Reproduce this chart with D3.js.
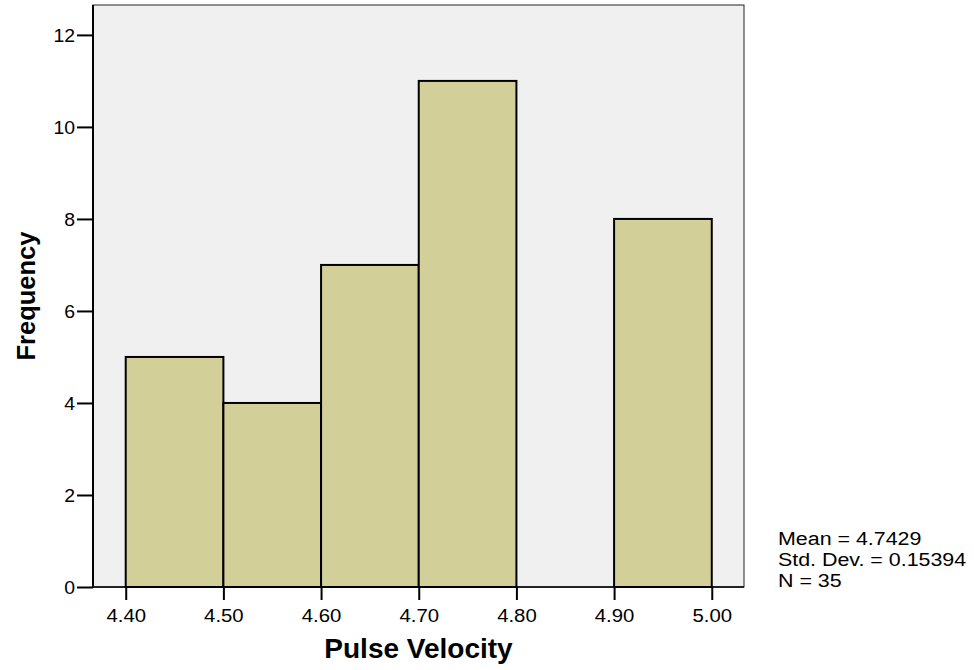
<!DOCTYPE html>
<html><head><meta charset="utf-8">
<script src="https://cdn.jsdelivr.net/npm/d3@7"></script>
<style>body{margin:0;background:#fff}svg{display:block}</style>
</head><body>
<script>
const binEdges = [4.40, 4.50, 4.60, 4.70, 4.80, 4.90, 5.00];
const frequencies = [5, 4, 7, 11, 0, 8];
const xTicks = [4.40, 4.50, 4.60, 4.70, 4.80, 4.90, 5.00];
const yTicks = [0, 2, 4, 6, 8, 10, 12];
const statsLines = ["Mean = 4.7429", "Std. Dev. = 0.15394", "N = 35"];

const W = 974, H = 670;
const L = 93, R = 744, T = 5, B = 587;
const svg = d3.select("body").append("svg").attr("width", W).attr("height", H)
  .style("font-family", "'Liberation Sans', Arial, sans-serif");

const x = d3.scaleLinear().domain([4.3665, 5.033]).range([L, R]);
const y = d3.scaleLinear().domain([0, 12.65]).range([B, T]);

svg.append("rect").attr("x", L).attr("y", T).attr("width", R - L).attr("height", B - T)
  .attr("fill", "#f0f0f0").attr("stroke", "#222").attr("stroke-width", 1);

const bins = frequencies.map((f, i) => ({x0: binEdges[i], x1: binEdges[i + 1], f}));
svg.selectAll("rect.bar").data(bins).enter().append("rect").attr("class", "bar")
  .attr("x", d => x(d.x0)).attr("width", d => x(d.x1) - x(d.x0))
  .attr("y", d => y(d.f)).attr("height", d => y(0) - y(d.f))
  .attr("fill", "#d3cf98").attr("stroke", "#000").attr("stroke-width", 2);

// axes
const xAxis = d3.axisBottom(x).tickValues(xTicks).tickFormat(d3.format(".2f")).tickSize(13);
const gx = svg.append("g").attr("transform", `translate(0,${B})`).call(xAxis);
gx.select(".domain").remove();
gx.selectAll(".tick line").attr("stroke", "#000").attr("stroke-width", 2);
gx.selectAll(".tick text").attr("font-size", 18).attr("fill", "#000")
  .attr("y", 0).attr("dy", 0).attr("transform", "translate(0,35) scale(1.13,1)");

const yAxis = d3.axisLeft(y).tickValues(yTicks).tickSize(16);
const gy = svg.append("g").attr("transform", `translate(${L},0)`).call(yAxis);
gy.select(".domain").remove();
gy.selectAll(".tick line").attr("stroke", "#000").attr("stroke-width", 2);
gy.selectAll(".tick text").attr("font-size", 18).attr("fill", "#000")
  .attr("x", 0).attr("dy", 0).attr("transform", "translate(-18,6.5) scale(1.08,1)");

svg.append("line").attr("x1", L).attr("x2", L).attr("y1", T).attr("y2", B)
  .attr("stroke", "#000").attr("stroke-width", 2);
svg.append("line").attr("x1", L).attr("x2", R).attr("y1", B).attr("y2", B)
  .attr("stroke", "#000").attr("stroke-width", 1.5);

svg.append("text").attr("x", (L + R) / 2).attr("y", 658).attr("text-anchor", "middle")
  .attr("font-size", 28).attr("font-weight", "bold").text("Pulse Velocity");
svg.append("text").attr("transform", `translate(35,${(T + B) / 2}) rotate(-90)`)
  .attr("text-anchor", "middle").attr("font-size", 25.5).attr("font-weight", "bold").text("Frequency");

svg.append("g").selectAll("text").data(statsLines).enter().append("text")
  .attr("transform", (d, i) => `translate(778,${545 + i * 21}) scale(1.19,1)`)
  .attr("font-size", 18).text(d => d);
</script>
</body></html>
